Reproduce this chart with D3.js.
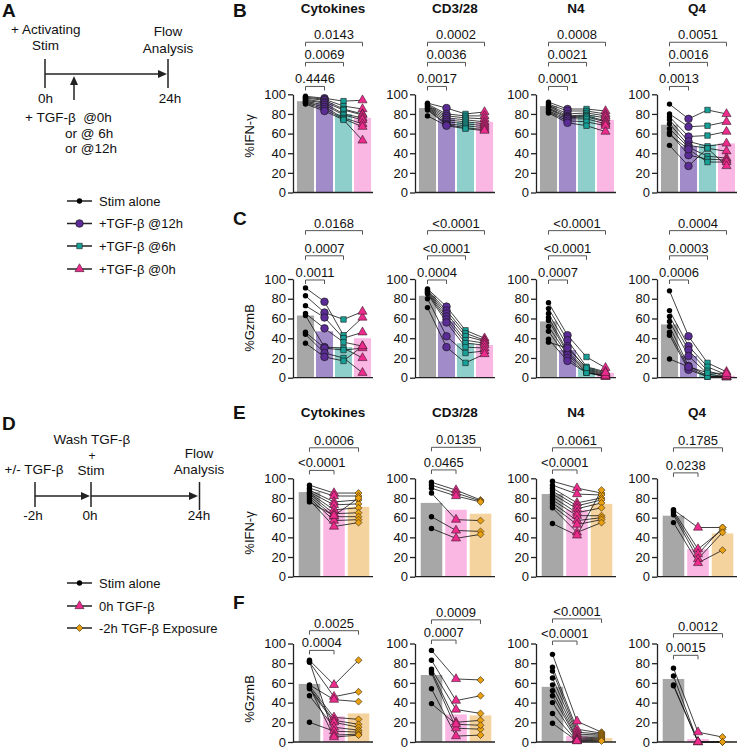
<!DOCTYPE html>
<html><head><meta charset="utf-8">
<script src="https://cdn.jsdelivr.net/npm/d3@7"></script>
<style>body{margin:0;background:#fff}svg{display:block}text{font-family:"Liberation Sans",Arial,Helvetica,sans-serif;fill:#111;white-space:pre}</style>
</head><body><div id="chart"></div>
<script>
// ---------------- DATA ----------------
const stimuli = ["Cytokines", "CD3/28", "N4", "Q4"];
const groupsTime = ["Stim alone", "+TGF-β @12h", "+TGF-β @6h", "+TGF-β @0h"];
const groupsWash = ["Stim alone", "0h TGF-β", "-2h TGF-β Exposure"];
const yTicks = [0, 20, 40, 60, 80, 100];

// Panel B: %IFN-γ, TGF-β timing (per donor values for each group)
const B_cytokines = [[98,97,96,95,94,93,92,91,90],[96,95,94,92,91,89,87,85,83],[93,88,85,84,80,79,76,75,74],[94,85,80,79,76,74,70,67,53]];
const B_cd328 = [[91,90,89,88,87,86,85,84,78],[86,80,78,76,74,72,70,69,68],[80,78,76,74,72,70,68,66,65],[82,78,75,72,70,68,66,64,63]];
const B_n4 = [[92,90,89,88,86,85,83,82,81],[85,83,80,78,77,76,75,73,71],[85,83,81,79,78,77,75,72,68],[83,80,78,76,73,72,70,68,62]];
const B_q4 = [[90,80,77,74,70,65,61,59,48],[75,67,57,52,48,46,38,44,27],[84,68,58,47,45,37,34,31,45],[80,72,62,50,42,35,33,31,27]];
const B_bars = [[93,91,80,76],[86,75,72,72],[88,78,79,74],[69,47,49,50]];
const B_pvals = [["0.4446","0.0069","0.0143"],["0.0017","0.0036","0.0002"],["0.0001","0.0021","0.0008"],["0.0013","0.0016","0.0051"]];

// Panel C: %GzmB, TGF-β timing
const C_cytokines = [[91,83,73,65,63,46,44,35],[77,66,61,50,31,30,25,21],[43,59,40,36,30,28,20,17],[61,67,46,32,20,30,5,32]];
const C_cd328 = [[90,89,88,87,86,85,80,71],[72,68,65,62,59,56,42,31],[48,45,42,38,35,31,25,15],[40,38,37,35,33,30,27,24]];
const C_n4 = [[76,70,65,61,58,52,47,39,36],[43,38,32,27,25,23,20,17,30],[21,11,9,8,7,6,5,5,10],[10,6,4,3,2,1,1,2,5]];
const C_q4 = [[88,68,62,57,52,46,43,19],[42,32,28,22,12,10,8,11],[15,11,7,4,2,1,1,5],[6,3,1,0.5,0.5,1,2,4]];
const C_bars = [[63,47,31,40],[83,57,35,33],[57,28,10,5],[54,22,5,2]];
const C_pvals = [["0.0011","0.0007","0.0168"],["0.0004","<0.0001","<0.0001"],["0.0007","<0.0001","<0.0001"],["0.0006","0.0003","0.0004"]];

// Panel E: %IFN-γ, TGF-β pre-exposure
const E_cytokines = [[93,90,88,86,85,84,82,80,78,76],[85,82,76,73,68,64,61,57,51,62],[85,82,78,74,70,65,61,58,55,80]];
const E_cd328 = [[96,93,90,85,61,49],[88,85,82,58,47,39],[78,77,76,57,46,43]];
const E_n4 = [[97,93,90,87,84,81,78,75,72,70,54],[90,84,75,72,69,65,62,57,53,45,42],[85,83,80,78,75,70,62,60,58,55,88]];
const E_q4 = [[68,67,65,63,55],[50,28,23,18,14],[50,48,50,45,27]];
const E_bars = [[86,69,71],[75,68,64],[84,68,74],[62,28,44]];
const E_pvals = [["<0.0001","0.0006"],["0.0465","0.0135"],["<0.0001","0.0061"],["0.0238","0.1785"]];

// Panel F: %GzmB, TGF-β pre-exposure
const F_cytokines = [[83,81,58,57,55,54,47,20,82,56],[58,46,43,25,22,20,15,11,7,5],[83,51,41,23,18,15,12,10,8,7]];
const F_cd328 = [[93,83,74,72,70,54,39],[64,42,33,20,14,6,18],[63,47,29,22,13,7,17]];
const F_n4 = [[89,76,72,65,58,52,47,40,29,19],[21,13,10,8,6,4,3,2,1,1],[10,9,8,7,6,5,4,3,2,1]];
const F_q4 = [[75,67,58,57],[10,0,0,0],[5,0,0,0]];
const F_bars = [[59,26,29],[68,28,27],[56,6,4],[64,3,1]];
const F_pvals = [["0.0004","0.0025"],["0.0007","0.0009"],["<0.0001","<0.0001"],["0.0015","0.0012"]];

// ---------------- STYLE / LAYOUT ----------------
const W = 741, H = 749;
const FONT = '"Liberation Sans", Arial, Helvetica, sans-serif';
const barColorsTime = ["#a7a7a7", "#a18bc8", "#8fcfcb", "#fab7e4"];
const markTime = ["dot", "circle", "square", "triangle"];
const barColorsWash = ["#a7a7a7", "#fab7e4", "#f5d39f"];
const markWash = ["dot", "triangle", "diamond"];
const axisX = [293, 415, 536, 657];

const svg = d3.select("#chart").append("svg").attr("width", W).attr("height", H);

function drawMarker(sel, type) {
  if (type === "dot") {
    sel.append("circle").attr("r", 2.7).attr("fill", "#000");
  } else if (type === "circle") {
    sel.append("circle").attr("r", 3.8).attr("fill", "#5b2b96").attr("stroke", "#1a1a1a").attr("stroke-width", 0.7);
  } else if (type === "square") {
    sel.append("path").attr("d", d3.symbol(d3.symbolSquare, 30)()).attr("fill", "#17a097").attr("stroke", "#1a1a1a").attr("stroke-width", 0.6);
  } else if (type === "triangle") {
    sel.append("path").attr("d", d3.symbol(d3.symbolTriangle, 36)()).attr("fill", "#ec2b8d").attr("stroke", "#3a1a2a").attr("stroke-width", 0.6);
  } else if (type === "diamond") {
    sel.append("path").attr("d", d3.symbol(d3.symbolSquare, 24)()).attr("transform", "rotate(45)").attr("fill", "#e9a010").attr("stroke", "#3a2a10").attr("stroke-width", 0.6);
  }
}

function drawPanel(opt) {
  const n = opt.series.length;
  const g = svg.append("g");
  const x = d3.scaleBand().domain(d3.range(n)).range([opt.ax + 3, opt.ax + 79])
    .paddingInner(n === 4 ? 0.1 : 0.12).paddingOuter(n === 4 ? 0.05 : 0.11);
  const y = d3.scaleLinear().domain([0, 100]).range([opt.bottom, opt.top]);
  const cx = i => x(i) + x.bandwidth() / 2;

  // bars
  g.selectAll("rect.bar").data(opt.bars).join("rect")
    .attr("x", (d, i) => x(i)).attr("width", x.bandwidth())
    .attr("y", d => y(d)).attr("height", d => y(0) - y(d))
    .attr("fill", (d, i) => opt.barColors[i]);

  // y axis
  const ya = g.append("g").attr("transform", `translate(${opt.ax},0)`)
    .call(d3.axisLeft(y).tickValues(yTicks).tickSize(5).tickSizeOuter(0).tickPadding(2));
  ya.select(".domain").attr("stroke", "#222").attr("stroke-width", 1.3);
  ya.selectAll(".tick line").attr("stroke", "#222").attr("stroke-width", 1.3);
  ya.selectAll(".tick text").attr("font-size", 13).attr("font-family", FONT).attr("fill", "#111");
  // x axis baseline
  g.append("line").attr("x1", opt.ax).attr("x2", opt.ax + 80).attr("y1", y(0)).attr("y2", y(0))
    .attr("stroke", "#222").attr("stroke-width", 1.3);

  // donor lines
  const nd = opt.series[0].length;
  const line = d3.line().x(d => d[0]).y(d => d[1]);
  for (let k = 0; k < nd; k++) {
    const pts = opt.series.map((s, i) => [cx(i), y(s[k])]);
    g.append("path").attr("d", line(pts)).attr("fill", "none").attr("stroke", "#111").attr("stroke-width", 0.8);
  }
  // markers
  opt.series.forEach((s, i) => {
    s.forEach(v => {
      const m = g.append("g").attr("transform", `translate(${cx(i)},${y(v)})`);
      drawMarker(m, opt.marks[i]);
    });
  });

  // brackets
  opt.pvals.forEach((p, k) => {
    const yy = y(opt.levels[k]);
    const x1 = cx(0), x2 = cx(k + 1);
    g.append("path").attr("d", `M${x1},${yy + 4}V${yy}H${x2}V${yy + 4}`)
      .attr("fill", "none").attr("stroke", "#555").attr("stroke-width", 1);
    g.append("text").attr("x", (x1 + x2) / 2).attr("y", yy - 3).attr("text-anchor", "middle")
      .attr("font-size", 13).text(p);
  });

  if (opt.title) {
    g.append("text").attr("x", opt.ax + 40).attr("y", opt.titleY).attr("text-anchor", "middle")
      .attr("font-size", 13.5).attr("font-weight", "bold").text(opt.title);
  }
}

function drawRow(row) {
  row.series.forEach((s, j) => {
    drawPanel({
      ax: axisX[j], top: row.top, bottom: row.bottom, series: s, bars: row.bars[j],
      barColors: row.barColors, marks: row.marks, pvals: row.pvals[j],
      levels: row.levels[j], title: row.titleY ? stimuli[j] : null, titleY: row.titleY
    });
  });
  svg.append("text").attr("transform", `translate(254,${row.labelY}) rotate(-90)`)
    .attr("text-anchor", "middle").attr("font-size", 13).text(row.label);
  svg.append("text").attr("x", 233).attr("y", row.letterY).attr("font-size", 19)
    .attr("font-weight", "bold").text(row.letter);
}

drawRow({ letter: "B", letterY: 17, top: 94.3, bottom: 192.5, titleY: 13, label: "%IFN-γ", labelY: 136,
  series: [B_cytokines, B_cd328, B_n4, B_q4], bars: B_bars, pvals: B_pvals,
  levels: [[108,132.5,153],[108,132.5,153],[108,132.5,153],[108,132.5,153]],
  barColors: barColorsTime, marks: markTime });
drawRow({ letter: "C", letterY: 225, top: 279, bottom: 377.7, label: "%GzmB", labelY: 328,
  series: [C_cytokines, C_cd328, C_n4, C_q4], bars: C_bars, pvals: C_pvals,
  levels: [[99,123.5,149],[99,123.5,149],[99,123.5,149],[99,123.5,149]],
  barColors: barColorsTime, marks: markTime });
drawRow({ letter: "E", letterY: 419, top: 478.3, bottom: 576.7, titleY: 417, label: "%IFN-γ", labelY: 533,
  series: [E_cytokines, E_cd328, E_n4, E_q4], bars: E_bars, pvals: E_pvals,
  levels: [[108,131],[108.5,131.5],[108.5,131],[105.5,131]],
  barColors: barColorsWash, marks: markWash });
drawRow({ letter: "F", letterY: 609, top: 643.5, bottom: 742, label: "%GzmB", labelY: 699,
  series: [F_cytokines, F_cd328, F_n4, F_q4], bars: F_bars, pvals: F_pvals,
  levels: [[93,113],[103.5,124],[102.5,125],[88,110]],
  barColors: barColorsWash, marks: markWash });

// ---------------- SCHEMATICS ----------------
function txt(x, y, s, anchor, size, weight) {
  svg.append("text").attr("x", x).attr("y", y).attr("text-anchor", anchor || "start")
    .attr("font-size", size || 13.5).attr("font-weight", weight || "normal").text(s);
}
function seg(x1, y1, x2, y2) {
  svg.append("line").attr("x1", x1).attr("y1", y1).attr("x2", x2).attr("y2", y2)
    .attr("stroke", "#222").attr("stroke-width", 1.5);
}
function headRight(x, y) {
  svg.append("path").attr("d", `M${x},${y}L${x - 9},${y - 4}L${x - 9},${y + 4}Z`).attr("fill", "#222");
}
function headUp(x, y) {
  svg.append("path").attr("d", `M${x},${y}L${x - 4},${y + 9}L${x + 4},${y + 9}Z`).attr("fill", "#222");
}

// A
txt(2, 17, "A", "start", 19, "bold");
txt(11, 34, "+ Activating");
txt(45.5, 50, "Stim", "middle");
txt(168, 36, "Flow", "middle");
txt(168, 53, "Analysis", "middle");
seg(45, 59, 45, 88);
seg(45, 74, 162, 74); headRight(167, 74);
seg(168, 59, 168, 88);
txt(45.5, 103, "0h", "middle");
txt(170, 103, "24h", "middle");
seg(74, 100, 74, 82); headUp(74, 76);
txt(25, 122, "+ TGF-β  @0h", "start");
txt(65, 138, "or @ 6h", "start");
txt(65, 153, "or @12h", "start");

// Legend A
const legA = [201, 223.5, 246, 269];
groupsTime.forEach((name, i) => {
  seg(67, legA[i], 92, legA[i]);
  const m = svg.append("g").attr("transform", `translate(79.5,${legA[i]})`);
  drawMarker(m, markTime[i]);
  txt(99, legA[i] + 4.5, name, "start", 13);
});

// D
txt(2, 430, "D", "start", 19, "bold");
txt(92, 444, "Wash TGF-β", "middle");
txt(92, 460, "+", "middle", 12);
txt(91, 475, "Stim", "middle");
txt(34, 474, "+/- TGF-β", "middle");
txt(199, 458, "Flow", "middle");
txt(199, 474, "Analysis", "middle");
seg(35, 482, 35, 507);
seg(35, 496, 85, 496); headRight(90, 496);
seg(91, 482, 91, 507);
seg(91, 496, 193, 496); headRight(198, 496);
seg(199.5, 482, 199.5, 510);
txt(33, 520, "-2h", "middle");
txt(90, 520, "0h", "middle");
txt(199, 520, "24h", "middle");

// Legend D
const legD = [583, 606, 628];
groupsWash.forEach((name, i) => {
  seg(67, legD[i], 92, legD[i]);
  const m = svg.append("g").attr("transform", `translate(79.5,${legD[i]})`);
  drawMarker(m, markWash[i]);
  txt(99, legD[i] + 4.5, name, "start", 13);
});
</script>
</body></html>
